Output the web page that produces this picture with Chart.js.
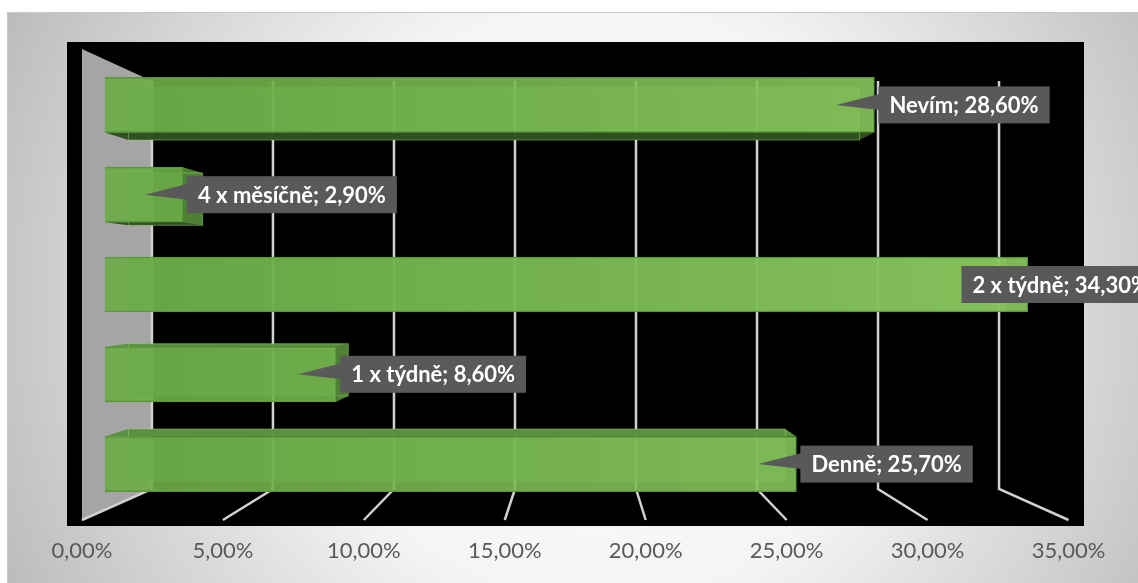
<!DOCTYPE html>
<html>
<head>
<meta charset="utf-8">
<script src="https://cdn.jsdelivr.net/npm/chart.js@4.4.1/dist/chart.umd.min.js"></script>
<style>
    html, body { margin: 0; padding: 0; background: #ffffff; }
    #wrap { position: relative; width: 1138px; height: 583px; }
</style>
</head>
<body>
<div id="wrap"><canvas id="frequencyChart"></canvas></div>
<script>
// Chart data
const categories = ['Nevím', '4 x měsíčně', '2 x týdně', '1 x týdně', 'Denně'];
const shares = [28.6, 2.9, 34.3, 8.6, 25.7];
const tickValues = [0, 5, 10, 15, 20, 25, 30, 35];

// Format number as Czech percent (comma decimal)
function formatPercent(v) {
    return v.toFixed(2).replace('.', ',') + '%';
}

function polygon(ctx, pts, fill) {
    ctx.beginPath();
    ctx.moveTo(pts[0][0], pts[0][1]);
    for (let i = 1; i < pts.length; i++) ctx.lineTo(pts[i][0], pts[i][1]);
    ctx.closePath();
    ctx.fillStyle = fill;
    ctx.fill();
}

// Frame, black plot area and the grey side wall
const backdropPlugin = {
    id: 'backdrop',
    beforeDraw(chart) {
        const ctx = chart.ctx;
        const area = chart.chartArea;
        ctx.save();
        const g = ctx.createRadialGradient(600, 300, 0, 600, 300, 680);
        g.addColorStop(0, '#ffffff');
        g.addColorStop(0.45, '#f4f4f4');
        g.addColorStop(1, '#b8b8b8');
        ctx.fillStyle = g;
        ctx.fillRect(7, 12, chart.width, chart.height);
        ctx.strokeStyle = '#c8c8c8';
        ctx.lineWidth = 1;
        ctx.beginPath();
        ctx.moveTo(7.5, chart.height);
        ctx.lineTo(7.5, 12.5);
        ctx.lineTo(chart.width, 12.5);
        ctx.stroke();

        // black plot area
        ctx.fillStyle = '#000000';
        ctx.fillRect(area.left, area.top - 18, area.right - area.left, area.bottom - area.top + 35);

        // side wall
        const xTick = chart.scales.xTick;
        const xGrid = chart.scales.xGrid;
        const fx = xTick.getPixelForValue(0);
        const bx = xGrid.getPixelForValue(0);
        polygon(ctx, [[fx, area.top - 11], [bx, area.top + 21], [bx, area.bottom - 20], [fx, area.bottom + 11]], '#a5a5a5');
        ctx.restore();
    },
    beforeDatasetsDraw(chart) {
        const ctx = chart.ctx;
        const area = chart.chartArea;
        const xTick = chart.scales.xTick;
        const xGrid = chart.scales.xGrid;
        ctx.save();
        // gridlines: back wall + floor
        ctx.strokeStyle = '#d0d0d0';
        ctx.lineWidth = 2.5;
        tickValues.forEach(v => {
            const bx = xGrid.getPixelForValue(v);
            const fx = xTick.getPixelForValue(v);
            ctx.beginPath();
            ctx.moveTo(bx, area.top + 21);
            ctx.lineTo(bx, area.bottom - 20);
            ctx.lineTo(fx, area.bottom + 11);
            ctx.stroke();
        });

        // 3D depth of the bars
        const vx = (area.left + area.right) / 2;
        const vy = (area.top + area.bottom) / 2;
        const k = 0.95;
        const toBack = (x, y) => [vx + k * (x - vx), vy + k * (y - vy)];
        const meta = chart.getDatasetMeta(0);
        meta.data.forEach(bar => {
            const p = bar.getProps(['x', 'y', 'base', 'height'], true);
            const x0 = Math.min(p.base, p.x), x1 = Math.max(p.base, p.x);
            const y0 = p.y - p.height / 2, y1 = p.y + p.height / 2;
            const [bx0, by0] = toBack(x0, y0);
            const [bx1, by1] = toBack(x1, y1);
            polygon(ctx, [[bx0, by0], [bx1, by0], [bx1, by1], [bx0, by1]], 'rgba(92,150,60,0.6)');
            if (by0 < y0) polygon(ctx, [[x0, y0], [x1, y0], [bx1, by0], [bx0, by0]], '#5a9140');
            if (by1 > y1) polygon(ctx, [[x0, y1], [x1, y1], [bx1, by1], [bx0, by1]], '#30501f');
            if (bx1 > x1) polygon(ctx, [[x1, y0], [bx1, by0], [bx1, by1], [x1, y1]], '#4e8034');
            ctx.strokeStyle = 'rgba(160,215,120,0.45)';
            ctx.lineWidth = 1;
            ctx.strokeRect(bx0, by0, bx1 - bx0, by1 - by0);
        });
        ctx.restore();
    }
};

// Callout labels "category; value"
const calloutPlugin = {
    id: 'callouts',
    afterDatasetsDraw(chart) {
        const ctx = chart.ctx;
        const meta = chart.getDatasetMeta(0);
        ctx.save();
        ctx.font = 'bold 22px Lato';
        ctx.textBaseline = 'middle';
        meta.data.forEach((bar, i) => {
            const text = categories[i] + '; ' + formatPercent(shares[i]);
            const w = ctx.measureText(text).width + 22;
            const h = 37;
            let left = bar.x + 4;
            if (left + w > chart.width + 22) left = chart.width + 22 - w;
            const tip = bar.x - 38;
            ctx.fillStyle = '#595959';
            ctx.beginPath();
            ctx.moveTo(left + 1, bar.y - 11);
            ctx.lineTo(tip, bar.y);
            ctx.lineTo(left + 1, bar.y + 5);
            ctx.closePath();
            ctx.fill();
            ctx.fillRect(left, bar.y - h / 2, w, h);
            ctx.fillStyle = '#ffffff';
            ctx.fillText(text, left + 11, bar.y + 1);
        });
        ctx.restore();
    }
};

function initializeFrequencyChart() {
    const canvas = document.getElementById('frequencyChart');
    if (!canvas) return;

    new Chart(canvas, {
        type: 'bar',
        data: {
            labels: categories,
            datasets: [{
                data: shares,
                xAxisID: 'xBar',
                yAxisID: 'y',
                backgroundColor: function(context) {
                    const chart = context.chart;
                    const area = chart.chartArea;
                    if (!area) return 'rgba(106,170,70,0.9)';
                    const g = chart.ctx.createLinearGradient(area.left, 0, area.right, 0);
                    g.addColorStop(0, 'rgba(106,170,70,0.9)');
                    g.addColorStop(1, 'rgba(142,206,98,0.9)');
                    return g;
                },
                borderColor: '#5a963a',
                borderWidth: 1.5,
                barThickness: 55
            }]
        },
        options: {
            indexAxis: 'y',
            responsive: true,
            maintainAspectRatio: false,
            animation: false,
            layout: {
                padding: { left: 67, right: 54, top: 60, bottom: 14 }
            },
            scales: {
                y: {
                    type: 'category',
                    display: false
                },
                xBar: {
                    type: 'linear',
                    display: false,
                    min: -1.41,
                    max: 36.39
                },
                xGrid: {
                    type: 'linear',
                    display: false,
                    min: -3.51,
                    max: 38.51
                },
                xTick: {
                    type: 'linear',
                    position: 'bottom',
                    min: -0.53,
                    max: 35.55,
                    afterBuildTicks: function(axis) {
                        axis.ticks = tickValues.map(v => ({ value: v }));
                    },
                    afterFit: function(axis) {
                        axis.height = 60;
                    },
                    grid: { display: false, drawTicks: false },
                    border: { display: false },
                    ticks: {
                        padding: 29,
                        color: '#595959',
                        font: { family: 'Lato', size: 22 },
                        maxRotation: 0,
                        autoSkip: false,
                        callback: function(value) {
                            return formatPercent(value);
                        }
                    }
                }
            },
            plugins: {
                legend: { display: false },
                tooltip: { enabled: false }
            }
        },
        plugins: [backdropPlugin, calloutPlugin]
    });
}

initializeFrequencyChart();
</script>
</body>
</html>
